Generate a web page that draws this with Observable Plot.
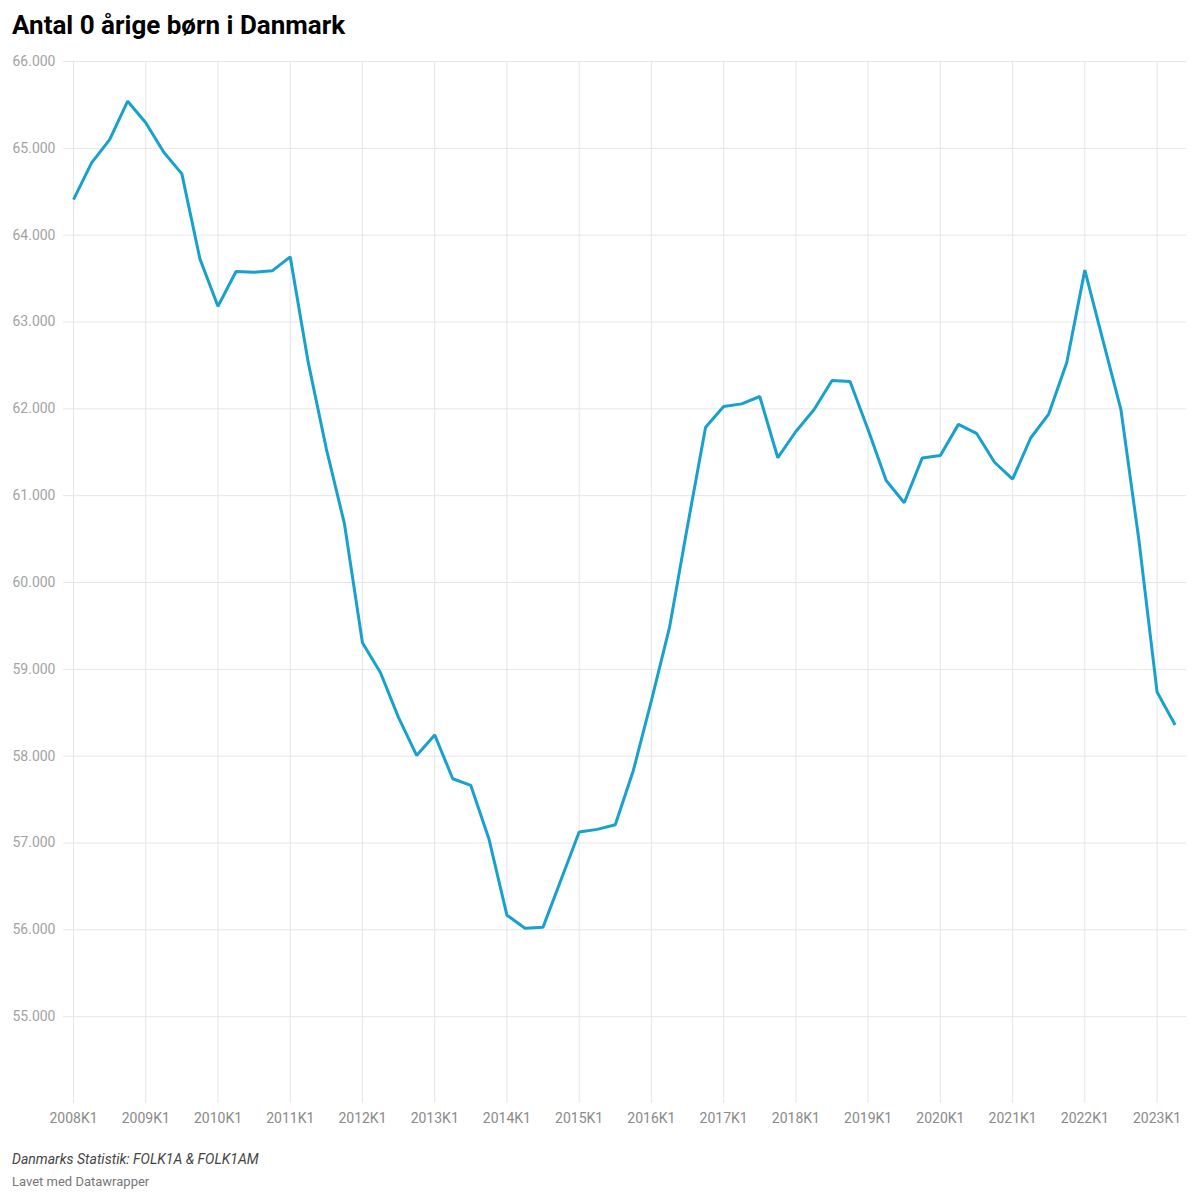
<!DOCTYPE html>
<html>
<head>
<meta charset="utf-8">
<script src="https://cdn.jsdelivr.net/npm/d3@7"></script>
<script src="https://cdn.jsdelivr.net/npm/@observablehq/plot@0.6"></script>
<style>
  html, body { margin: 0; padding: 0; background: #fff; }
  body { width: 1200px; height: 1200px; position: relative; font-family: Roboto, "Noto Sans", sans-serif; }
  #title { position: absolute; left: 12px; top: 12px; font-size: 26px; font-weight: 700; line-height: 1; color: #000; }
  #chart { position: absolute; left: 0; top: 40px; }
  #source { position: absolute; left: 12px; top: 1152px; font-size: 14px; font-style: italic; line-height: 1; color: #444; }
  #credit { position: absolute; left: 12px; top: 1175px; font-size: 13px; line-height: 1; color: #777; }
</style>
</head>
<body>
<div id="title">Antal 0 årige børn i Danmark</div>
<div id="chart"></div>
<div id="source">Danmarks Statistik: FOLK1A &amp; FOLK1AM</div>
<div id="credit">Lavet med Datawrapper</div>
<script>
const quarters = [
  "2008K1","2008K2","2008K3","2008K4",
  "2009K1","2009K2","2009K3","2009K4",
  "2010K1","2010K2","2010K3","2010K4",
  "2011K1","2011K2","2011K3","2011K4",
  "2012K1","2012K2","2012K3","2012K4",
  "2013K1","2013K2","2013K3","2013K4",
  "2014K1","2014K2","2014K3","2014K4",
  "2015K1","2015K2","2015K3","2015K4",
  "2016K1","2016K2","2016K3","2016K4",
  "2017K1","2017K2","2017K3","2017K4",
  "2018K1","2018K2","2018K3","2018K4",
  "2019K1","2019K2","2019K3","2019K4",
  "2020K1","2020K2","2020K3","2020K4",
  "2021K1","2021K2","2021K3","2021K4",
  "2022K1","2022K2","2022K3","2022K4",
  "2023K1","2023K2"
];
const children = [
  64410, 64833, 65101, 65543,
  65294, 64955, 64706, 63727,
  63181, 63581, 63573, 63589,
  63750, 62532, 61540, 60679,
  59306, 58960, 58444, 58008,
  58245, 57740, 57663, 57050,
  56169, 56019, 56031, 56580,
  57126, 57157, 57211, 57835,
  58640, 59480, 60650, 61789,
  62027, 62057, 62142, 61437,
  61739, 61989, 62326, 62314,
  61760, 61175, 60918, 61435,
  61462, 61821, 61718, 61385,
  61190, 61664, 61940, 62533,
  63597, 62790, 61990, 60480,
  58740, 58358
];
const xTickLabels = ["2008K1","2009K1","2010K1","2011K1","2012K1","2013K1","2014K1","2015K1","2016K1","2017K1","2018K1","2019K1","2020K1","2021K1","2022K1","2023K1"];
const yTicks = [55000,56000,57000,58000,59000,60000,61000,62000,63000,64000,65000,66000];

const data = quarters.map((q, i) => ({q, i, v: children[i]}));
const xTickIdx = xTickLabels.map(l => quarters.indexOf(l));
const fmt = d => d3.format(",")(d).replace(/,/g, ".");
const grid = "#e6e6e6";

const plot = Plot.plot({
  width: 1200,
  height: 1095,
  marginTop: 21,
  marginBottom: 32,
  marginLeft: 63,
  marginRight: 14,
  style: {fontFamily: "Roboto, sans-serif", fontSize: "14px", background: "transparent"},
  x: {type: "linear", domain: [-0.554, 61.63]},
  y: {domain: [54000, 66000]},
  marks: [
    Plot.ruleY(yTicks, {stroke: grid, strokeWidth: 1}),
    Plot.ruleX(xTickIdx, {y1: 54000, y2: 66000, stroke: grid, strokeWidth: 1}),
    Plot.axisY(yTicks, {tickSize: 0, tickPadding: 8, tickFormat: fmt, color: "#a3a3a3", fontSize: 14, label: null}),
    Plot.axisX(xTickIdx, {tickSize: 0, tickPadding: 10, tickFormat: i => quarters[i], color: "#8a8a8a", fontSize: 14, label: null}),
    Plot.line(data, {x: "i", y: "v", stroke: "#18a1cd", strokeWidth: 3, strokeLinejoin: "miter", strokeLinecap: "butt"})
  ]
});
document.getElementById("chart").appendChild(plot);
</script>
</body>
</html>
